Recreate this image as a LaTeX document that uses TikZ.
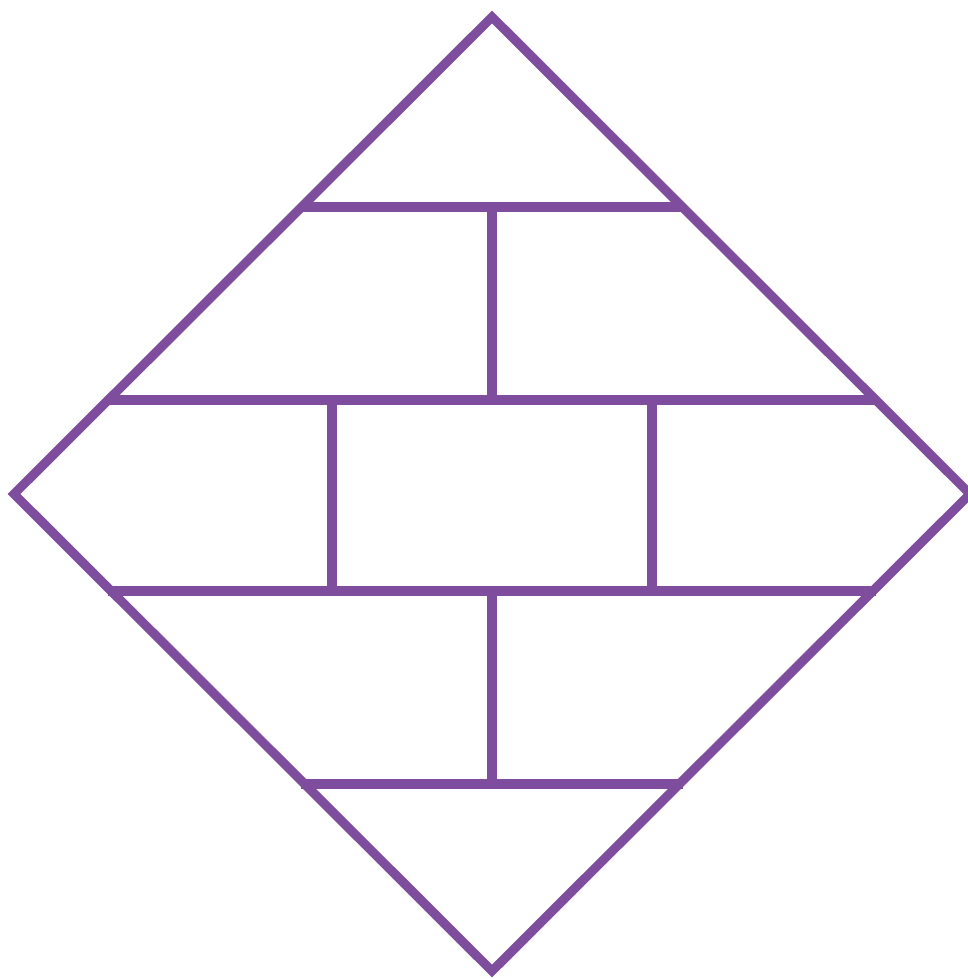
\documentclass[tikz,border=0pt]{standalone}
\usepackage{tikz}
\definecolor{brickpurple}{RGB}{127,77,158}
\tikzset{
  brickLine/.style={
    draw=brickpurple,
    line width=2.6pt,
    line join=miter
  }
}
\begin{document}
\begin{tikzpicture}[x=0.01cm,y=-0.01cm]
  \useasboundingbox (0,0) rectangle (968,979);
  \clip (0,0) rectangle (968,979);

  % outer diamond
  \coordinate (top) at (492,17);
  \coordinate (left) at (14,494);
  \coordinate (right) at (970,494);
  \coordinate (bottom) at (492,971);
  \draw[brickLine] (top) -- (right) -- (bottom) -- (left) -- cycle;

  % courses
  \draw[brickLine] (301,207) -- (683,207);
  \draw[brickLine] (108,400) -- (876,400);
  \draw[brickLine] (108,591) -- (876,591);
  \draw[brickLine] (301,784) -- (683,784);

  % joints
  \draw[brickLine] (492,207) -- (492,400);
  \draw[brickLine] (332,400) -- (332,591);
  \draw[brickLine] (652,400) -- (652,591);
  \draw[brickLine] (492,591) -- (492,784);
\end{tikzpicture}
\end{document}
